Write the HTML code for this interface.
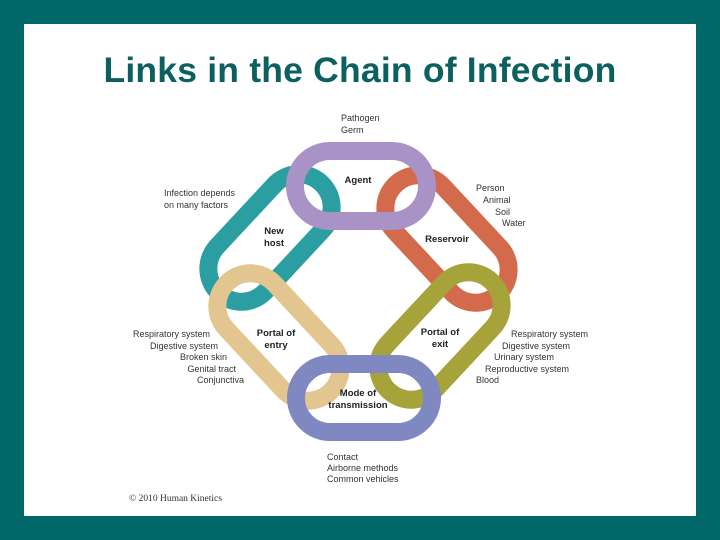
<!DOCTYPE html>
<html><head><meta charset="utf-8"><style>
html,body{margin:0;padding:0}
body{width:720px;height:540px;background:#006868;position:relative;overflow:hidden;font-family:"Liberation Sans",sans-serif}
#w{position:absolute;left:24px;top:24px;width:672px;height:492px;background:#fff}
h1{position:absolute;left:0;top:50px;width:720px;text-align:center;margin:0;font-size:35.5px;font-weight:bold;color:#0c6060;letter-spacing:0.2px}
</style></head><body>
<div id="w"></div>
<h1>Links in the Chain of Infection</h1>
<svg width="720" height="540" style="position:absolute;left:0;top:0" font-family="Liberation Sans, sans-serif" font-size="9" fill="#333">
<g fill="none" stroke-width="18">
<rect x="-75" y="-33" width="150" height="66" rx="33" transform="translate(270,238) rotate(-47)" stroke="#2a9ea0"/>
<rect x="-75" y="-33" width="150" height="66" rx="33" transform="translate(447,239) rotate(47)" stroke="#d46a4c"/>
<rect x="295" y="151" width="132" height="70" rx="35" stroke="#a892c6"/>
<rect x="-75" y="-33" width="150" height="66" rx="33" transform="translate(279,337) rotate(47)" stroke="#e3c58f"/>
<rect x="-75" y="-33" width="150" height="66" rx="33" transform="translate(440,336) rotate(-47)" stroke="#a6a33a"/>
<rect x="296" y="364" width="136" height="68" rx="34" stroke="#7f88c0"/>
</g>
<g font-weight="bold" fill="#222" font-size="9.5" text-anchor="middle">
<text x="358" y="183">Agent</text>
<text x="274" y="234">New</text><text x="274" y="246">host</text>
<text x="447" y="242">Reservoir</text>
<text x="276" y="336">Portal of</text><text x="276" y="348">entry</text>
<text x="440" y="335">Portal of</text><text x="440" y="347">exit</text>
<text x="358" y="396">Mode of</text><text x="358" y="408">transmission</text>
</g>
<text x="341" y="121">Pathogen</text><text x="341" y="133">Germ</text>
<text x="164" y="196">Infection depends</text><text x="164" y="208">on many factors</text>
<text x="476" y="191">Person</text><text x="483" y="203">Animal</text><text x="495" y="215">Soil</text><text x="502" y="226">Water</text>
<g text-anchor="end">
<text x="210" y="337">Respiratory system</text><text x="218" y="349">Digestive system</text><text x="227" y="360">Broken skin</text><text x="236" y="372">Genital tract</text><text x="244" y="383">Conjunctiva</text>
</g>
<text x="511" y="337">Respiratory system</text><text x="502" y="349">Digestive system</text><text x="494" y="360">Urinary system</text><text x="485" y="372">Reproductive system</text><text x="476" y="383">Blood</text>
<text x="327" y="460">Contact</text><text x="327" y="471">Airborne methods</text><text x="327" y="482">Common vehicles</text>
<text x="129" y="501" font-family="Liberation Serif, serif" font-size="9.5">© 2010 Human Kinetics</text>
</svg>
</body></html>
